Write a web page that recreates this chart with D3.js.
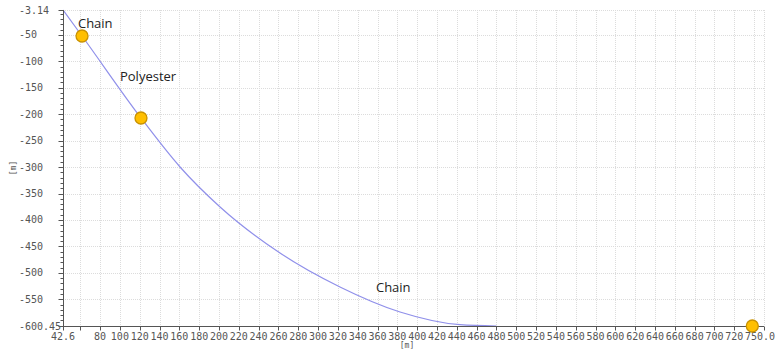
<!DOCTYPE html>
<html><head><meta charset="utf-8">
<script src="https://cdn.jsdelivr.net/npm/d3@7"></script>
<style>body{margin:0;background:#fff}svg{display:block}</style>
</head><body>
<svg id="c" width="776" height="355"></svg>
<script>
// Data
const curveX = [42.6, 61.8, 121.3, 160.7, 201.1, 261.6, 322.1, 382.7, 443.2, 480.0];
const curveY = [-3.14, -52.3, -207.3, -299.9, -375.5, -462.5, -526.7, -574.0, -598.0, -600.45];
const pointX = [61.8, 121.3, 738.2];
const pointY = [-52.3, -207.3, -600.45];
const labelText = ["Chain", "Polyester", "Chain"];
const labelX = [57.7, 100.1, 358.4];
const labelY = [-37.2, -137.3, -536.1];
const xDomain = [42.6, 750.0];
const yDomain = [-600.45, -3.14];
const xTickValues = [42.6, 60, 80, 100, 120, 140, 160, 180, 200, 220, 240, 260, 280, 300, 320, 340, 360, 380, 400, 420, 440, 460, 480, 500, 520, 540, 560, 580, 600, 620, 640, 660, 680, 700, 720, 740, 750.0];
const xTickLabels = ["42.6", "", "80", "100", "120", "140", "160", "180", "200", "220", "240", "260", "280", "300", "320", "340", "360", "380", "400", "420", "440", "460", "480", "500", "520", "540", "560", "580", "600", "620", "640", "660", "680", "700", "720", "", "750.0"];
const yTickValues = [-3.14, -50, -100, -150, -200, -250, -300, -350, -400, -450, -500, -550, -600.45];
const yTickLabels = ["-3.14", "-50", "-100", "-150", "-200", "-250", "-300", "-350", "-400", "-450", "-500", "-550", "-600.45"];
const yMinorValues = d3.range(-600, 0, 10);
const xTitle = "[m]", yTitle = "[m]";

const svg = d3.select("#c");
const L = 63, R = 764, T = 10, B = 326;
const x = d3.scaleLinear().domain(xDomain).range([L, R]);
const y = d3.scaleLinear().domain(yDomain).range([B, T]);
const mono = "'DejaVu Sans Mono', monospace";

// grid
const g = svg.append("g");
g.selectAll("line.vg").data(xTickValues.slice(1)).join("line")
  .attr("x1", d => Math.round(x(d)) + 0.5).attr("x2", d => Math.round(x(d)) + 0.5)
  .attr("y1", T).attr("y2", B)
  .attr("stroke", "#dcdcdc").attr("stroke-dasharray", "1,1");
g.selectAll("line.hg").data(yTickValues.slice(0, -1)).join("line")
  .attr("x1", L).attr("x2", R)
  .attr("y1", d => Math.round(y(d)) + 0.5).attr("y2", d => Math.round(y(d)) + 0.5)
  .attr("stroke", "#dcdcdc").attr("stroke-dasharray", "1,1");

// curve
const pts = curveX.map((v, i) => [v, curveY[i]]);
svg.append("path").datum(pts)
  .attr("d", d3.line().x(d => x(d[0])).y(d => y(d[1])).curve(d3.curveMonotoneX))
  .attr("fill", "none").attr("stroke", "#9090ea").attr("stroke-width", 1.2);

// y axis
const ya = svg.append("g").attr("transform", `translate(${L + 0.5},0)`);
ya.append("line").attr("y1", T).attr("y2", B).attr("stroke", "#555");
ya.selectAll("line.mn").data(yMinorValues).join("line")
  .attr("x1", -3).attr("x2", 0)
  .attr("y1", d => Math.round(y(d)) + 0.5).attr("y2", d => Math.round(y(d)) + 0.5)
  .attr("stroke", "#555");
ya.selectAll("line.mj").data(yTickValues).join("line")
  .attr("x1", -5).attr("x2", 0)
  .attr("y1", d => Math.round(y(d)) + 0.5).attr("y2", d => Math.round(y(d)) + 0.5)
  .attr("stroke", "#555");
svg.selectAll("text.yl").data(yTickValues).join("text")
  .attr("x", 19).attr("y", d => y(d) + 3.5)
  .attr("font-family", mono).attr("font-size", 10).attr("fill", "#555")
  .text((d, i) => yTickLabels[i]);
svg.append("text").attr("transform", `translate(16,${(T + B) / 2}) rotate(-90)`)
  .attr("text-anchor", "middle").attr("font-family", mono).attr("font-size", 8).attr("fill", "#555")
  .text(yTitle);

// x axis
const xa = svg.append("g").attr("transform", `translate(0,${B + 0.5})`);
xa.append("line").attr("x1", L).attr("x2", R).attr("stroke", "#555");
xa.selectAll("line.t").data(xTickValues).join("line")
  .attr("x1", d => Math.round(x(d)) + 0.5).attr("x2", d => Math.round(x(d)) + 0.5)
  .attr("y1", 0).attr("y2", 4).attr("stroke", "#555");
xa.selectAll("text").data(xTickValues).join("text")
  .attr("x", (d, i) => i === xTickValues.length - 1 ? 775 : x(d))
  .attr("y", 13).attr("text-anchor", (d, i) => i === xTickValues.length - 1 ? "end" : "middle")
  .attr("font-family", mono).attr("font-size", 10).attr("fill", "#555")
  .text((d, i) => xTickLabels[i]);
svg.append("text").attr("x", 407).attr("y", 348).attr("text-anchor", "middle")
  .attr("font-family", mono).attr("font-size", 8).attr("fill", "#555").text(xTitle);

// points
svg.selectAll("circle").data(pointX).join("circle")
  .attr("cx", d => x(d)).attr("cy", (d, i) => y(pointY[i])).attr("r", 6)
  .attr("fill", "#ffbf00").attr("stroke", "#c99200").attr("stroke-width", 1.3);

// labels
svg.selectAll("text.lab").data(labelText).join("text")
  .attr("x", (d, i) => x(labelX[i])).attr("y", (d, i) => y(labelY[i]))
  .attr("font-family", "'Open Sans', sans-serif").attr("font-size", 13).attr("fill", "#222")
  .text(d => d);
</script>
</body></html>
